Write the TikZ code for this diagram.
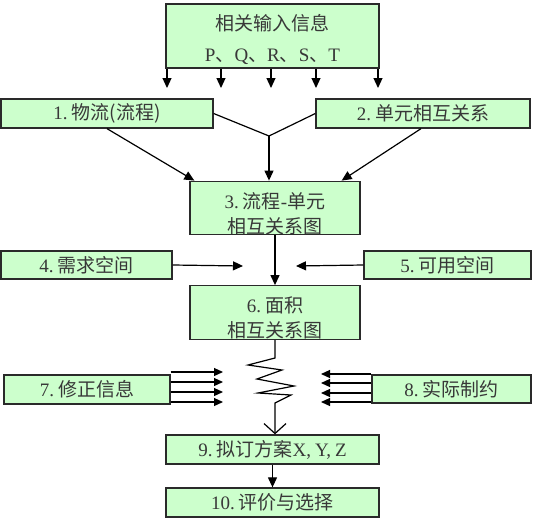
\documentclass[tikz,border=0pt]{standalone}
\usepackage{fontspec}
\setmainfont{Liberation Serif}
\newfontfamily\cjk{Noto Sans CJK SC}
\usetikzlibrary{arrows.meta,calc}
\definecolor{boxfill}{HTML}{CCFFCC}
\definecolor{boxline}{HTML}{2A2A2A}
\definecolor{txt}{HTML}{383838}
\newcommand\hd{.\kern4pt}
\newcommand\hc{,\kern4pt}
\begin{document}
\begin{tikzpicture}[x=1pt,y=-1pt,
  box/.style={draw=boxline, fill=boxfill, line width=1.3pt, inner sep=0pt,
    text=txt, font=\fontsize{19}{25}\selectfont, align=center},
  arr/.style={-{Triangle[length=10pt,width=9pt]}, line width=1.2pt},
  sarr/.style={-{Triangle[length=9pt,width=8pt]}, line width=1.2pt},
  plain/.style={line width=1.2pt},
  barb/.style={-{Straight Barb[length=10pt,width=22pt]}, line width=1.2pt}]
\useasboundingbox (0,0) rectangle (536,525);

% boxes
\node[box, minimum width=213pt, minimum height=64pt] (top) at (272.5,36)
  {\rule{0pt}{23pt}{\cjk 相关输入信息}\\[6pt]P{\cjk 、}Q{\cjk 、}R{\cjk 、}S{\cjk 、}T};
\node[box, minimum width=212pt, minimum height=29pt] (b1) at (107,113.5) {1\hd{\cjk 物流(流程)}};
\node[box, minimum width=214pt, minimum height=29pt] (b2) at (423,113.5) {2\hd{\cjk 单元相互关系}};
\node[box, minimum width=170pt, minimum height=52pt] (b3) at (275,208) {\rule{0pt}{27pt}3\hd{\cjk 流程}-{\cjk 单元}\\{\cjk 相互关系图}};
\node[box, minimum width=171pt, minimum height=28pt] (b4) at (86.5,265) {4\hd{\cjk 需求空间}};
\node[box, minimum width=167pt, minimum height=28pt] (b5) at (447.5,265) {5\hd{\cjk 可用空间}};
\node[box, minimum width=170pt, minimum height=53pt] (b6) at (275,312.5) {\rule{0pt}{27pt}6\hd{\cjk 面积}\\{\cjk 相互关系图}};
\node[box, minimum width=166pt, minimum height=29pt] (b7) at (87,389.5) {7\hd{\cjk 修正信息}};
\node[box, minimum width=159pt, minimum height=28pt] (b8) at (451.5,389) {8\hd{\cjk 实际制约}};
\node[box, minimum width=213pt, minimum height=29pt] (b9) at (272.5,449.5) {9\hd{\cjk 拟订方案}X\hc Y\hc Z};
\node[box, minimum width=213pt, minimum height=29pt] (b10) at (272.5,502.5) {10\hd{\cjk 评价与选择}};

% free ends
\coordinate (t1) at (167,88);
\coordinate (t2) at (221,88);
\coordinate (t3) at (271,88);
\coordinate (t4) at (316,88);
\coordinate (t5) at (378,88);
\coordinate (j) at (269,136);
\coordinate (e4) at (243,266);
\coordinate (e5) at (296,266);
\coordinate (a1) at (223,372);
\coordinate (a2) at (223,382);
\coordinate (a3) at (223,392);
\coordinate (a4) at (223,402);
\coordinate (c1) at (321,374);
\coordinate (c2) at (321,383);
\coordinate (c3) at (321,393);
\coordinate (c4) at (321,402);

% top outputs
\foreach \t in {t1,t2,t3,t4,t5} \draw[arr] (top.south -| \t) -- (\t);

% 1, 2 -> junction -> 3
\draw[plain] (b1.east) -- (j);
\draw[plain] (b2.west) -- (j);
\draw[arr] (j) -- (b3.north -| j);
\draw[arr] (b1.south) -- ($(b3.north west)+(5,0)$);
\draw[arr] ($(b2.south)+(-2,0)$) -- ($(b3.north east)+(-19,0)$);

% 3 -> 6, 4 and 5
\draw[arr] (b3.south) -- (b6.north);
\draw[arr] (b4.east) -- (e4);
\draw[arr] (b5.west) -- (e5);

% 6 -> spring -> 9
\draw[barb, line join=miter] (b6.south) -- (275,358) -- (248,365) -- (282,370) -- (257,379)
  -- (294,386) -- (258,393) -- (291,395) -- (275,403) -- (b6.south |- b9.north);

% 7 and 8
\foreach \a in {a1,a2,a3,a4} \draw[sarr] (b7.east |- \a) -- (\a);
\foreach \c in {c1,c2,c3,c4} \draw[sarr] (b8.west |- \c) -- (\c);

% 9 -> 10
\draw[arr] (b9.south) -- (b10.north);
\end{tikzpicture}
\end{document}
